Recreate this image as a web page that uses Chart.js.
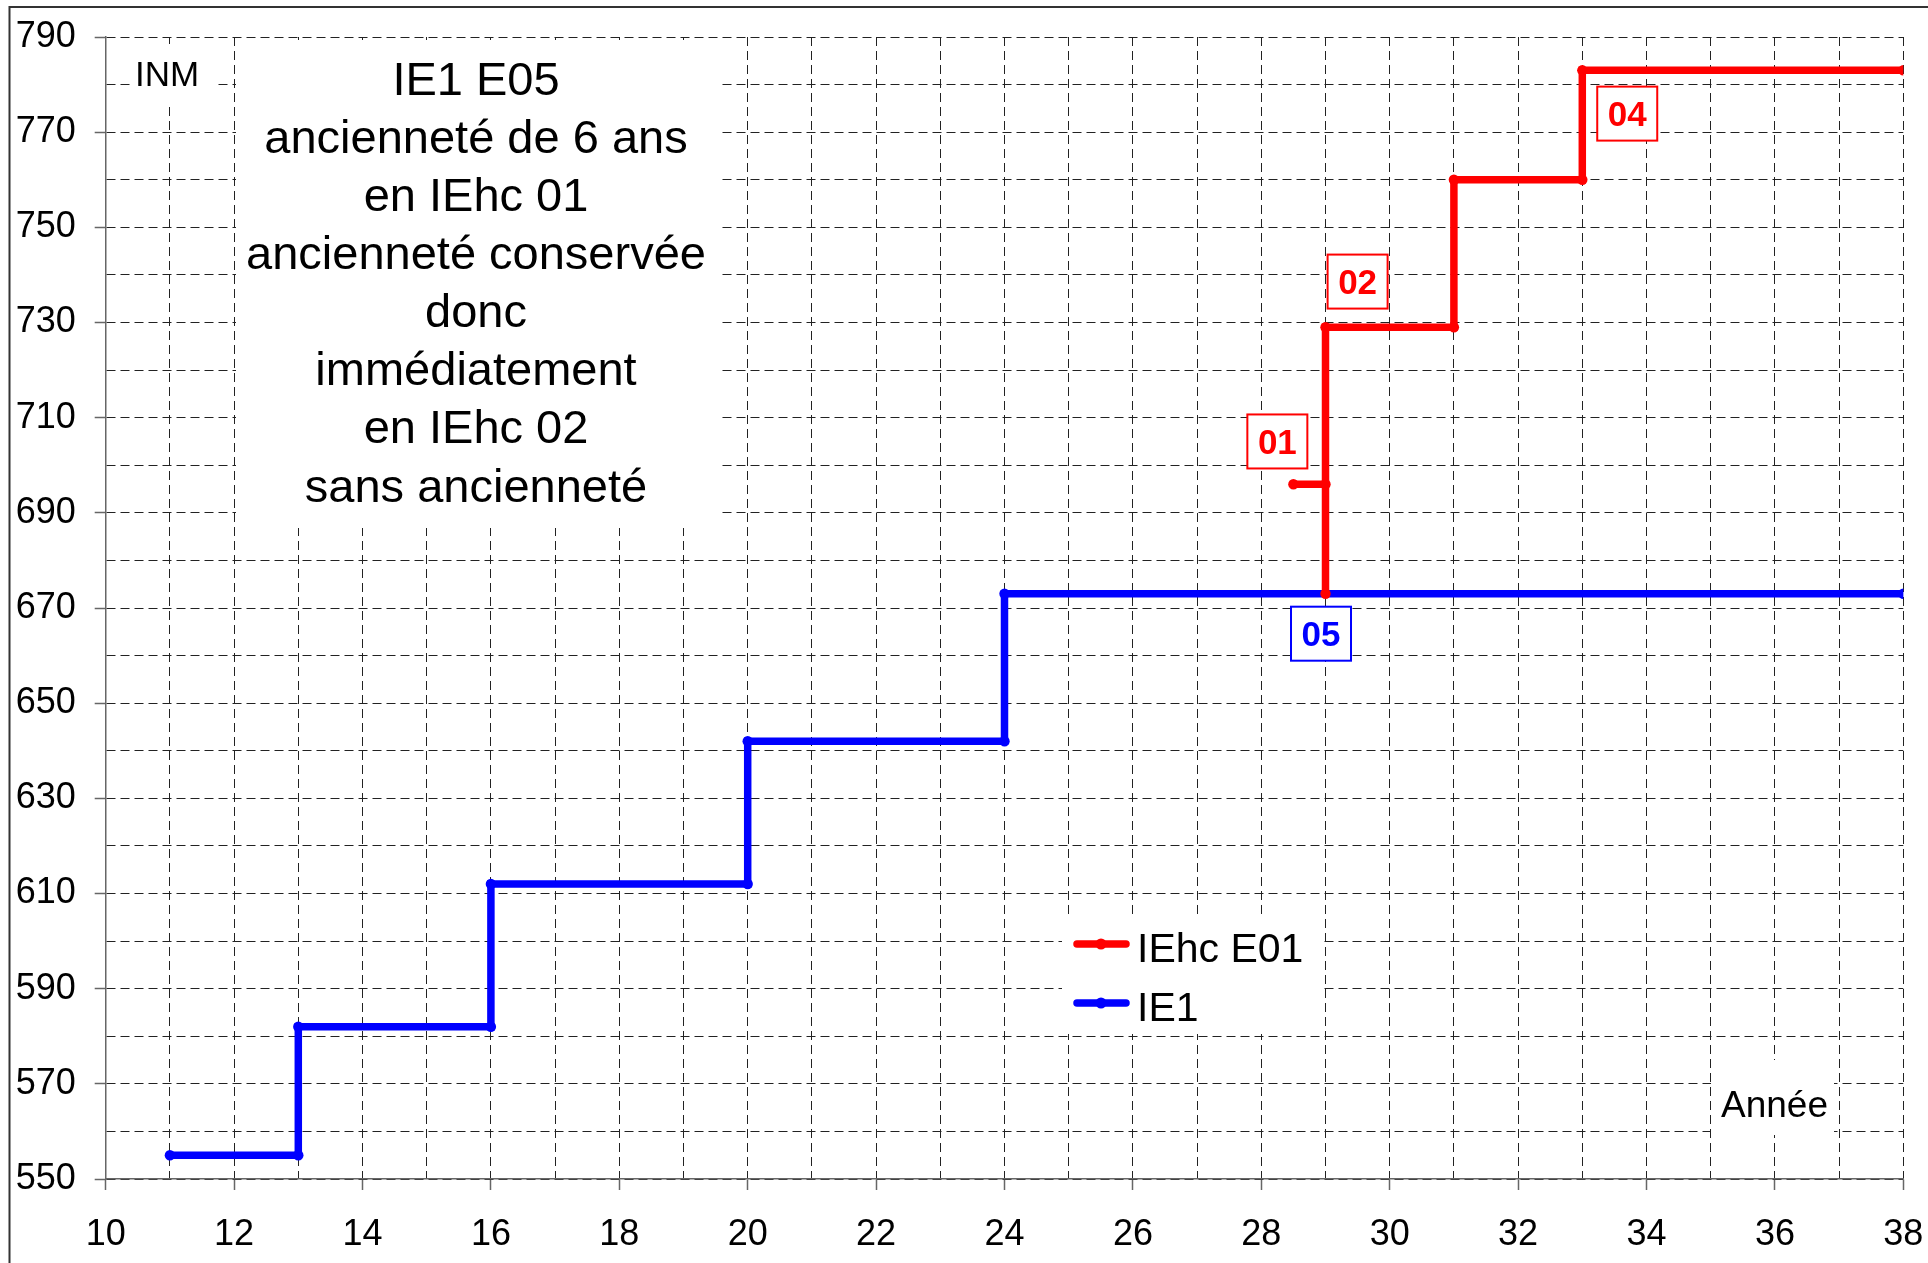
<!DOCTYPE html>
<html><head><meta charset="utf-8">
<script src="https://cdn.jsdelivr.net/npm/chart.js@4.4.1/dist/chart.umd.min.js"></script>
<style>html,body{margin:0;padding:0;background:#fff;overflow:hidden}canvas{display:block}</style>
</head><body><canvas id="c" width="1928" height="1263" style="width:1928px;height:1263px"></canvas>
<script>
// ---- data ----
const seriesNames = ['IEhc E01', 'IE1'];
const yearsIEhc = [28.5, 29, 29, 29, 31, 31, 33, 33, 38];
const inmIEhc   = [696, 696, 673, 729, 729, 760, 760, 783, 783];
const yearsIE1  = [11, 13, 13, 16, 16, 20, 20, 24, 24, 38];
const inmIE1    = [555, 555, 582, 582, 612, 612, 642, 642, 673, 673];
const xMin = 10, xMax = 38, xStep = 1, xLabelEvery = 2;
const yMin = 550, yMax = 790, yStep = 10, yLabelEvery = 20;
const echelonTexts  = ['01', '02', '04', '05'];
const echelonYears  = [28.25, 29.5, 33.7, 28.93];
const echelonInm    = [705, 738.6, 773.9, 664.6];
const echelonSeries = [0, 0, 0, 1];
const noteLines = ['IE1 E05', 'ancienneté de 6 ans', 'en IEhc 01', 'ancienneté conservée', 'donc', 'immédiatement', 'en IEhc 02', 'sans ancienneté'];
const yAxisTitle = 'INM';
const xAxisTitle = 'Année';

const colors = ['#ff0000', '#0000ff'];
const FONT = '"Liberation Sans", Arial, sans-serif';

function pts(xs, ys) { return xs.map((x, i) => ({x: x, y: ys[i]})); }
function isXLabel(v) { return Math.round(v - xMin) % xLabelEvery === 0; }
function isYLabel(v) { return Math.round(v - yMin) % yLabelEvery === 0; }

const overlay = {
  id: 'overlay',
  beforeDatasetsDraw(chart) {
    const ctx = chart.ctx;
    ctx.save();
    ctx.fillStyle = '#fff';
    ctx.fillRect(236, 40, 484, 488);   // note block
    ctx.fillRect(134, 44, 80, 60);     // INM
    ctx.fillRect(1062, 914, 262, 120); // legend
    ctx.fillRect(1711, 1060, 123, 75); // Année
    ctx.restore();
  },
  afterDatasetsDraw(chart) {
    const ctx = chart.ctx;
    const xs = chart.scales.x, ys = chart.scales.y;
    ctx.save();
    ctx.fillStyle = '#000';
    ctx.textAlign = 'center';
    ctx.textBaseline = 'alphabetic';
    ctx.font = '47px ' + FONT;
    noteLines.forEach((t, i) => ctx.fillText(t, 476, 94.8 + i * 58.1));
    ctx.textAlign = 'left';
    ctx.font = '35px ' + FONT;
    ctx.fillText(yAxisTitle, 135, 86);
    ctx.font = '37px ' + FONT;
    ctx.fillText(xAxisTitle, 1721, 1117);
    ctx.font = 'bold 35px ' + FONT;
    ctx.textAlign = 'center';
    echelonTexts.forEach((t, i) => {
      const cx = xs.getPixelForValue(echelonYears[i]);
      const cy = ys.getPixelForValue(echelonInm[i]);
      const c = colors[echelonSeries[i]];
      ctx.fillStyle = '#fff';
      ctx.fillRect(cx - 30, cy - 27, 60, 54);
      ctx.strokeStyle = c;
      ctx.lineWidth = 2;
      ctx.strokeRect(cx - 30, cy - 27, 60, 54);
      ctx.fillStyle = c;
      ctx.fillText(t, cx, cy + 12.5);
    });
    const ly = [944, 1003];
    chart.data.datasets.forEach((ds, i) => {
      ctx.strokeStyle = ds.borderColor;
      ctx.lineWidth = 7.5;
      ctx.lineCap = 'round';
      ctx.beginPath();
      ctx.moveTo(1077, ly[i]);
      ctx.lineTo(1126, ly[i]);
      ctx.stroke();
      ctx.fillStyle = ds.borderColor;
      ctx.beginPath();
      ctx.arc(1101, ly[i], 5.5, 0, Math.PI * 2);
      ctx.fill();
      ctx.fillStyle = '#000';
      ctx.textAlign = 'left';
      ctx.font = '41px ' + FONT;
      ctx.fillText(ds.label, 1137, ly[i] + 17.5);
    });
    ctx.restore();
  },
  afterDraw(chart) {
    const ctx = chart.ctx;
    ctx.save();
    ctx.strokeStyle = '#333';
    ctx.lineWidth = 2;
    ctx.beginPath();
    ctx.moveTo(9.5, 1263);
    ctx.lineTo(9.5, 7);
    ctx.lineTo(1928, 7);
    ctx.stroke();
    ctx.restore();
  }
};

new Chart(document.getElementById('c'), {
  type: 'scatter',
  data: {
    datasets: [
      {label: seriesNames[0], data: pts(yearsIEhc, inmIEhc), showLine: true,
       borderColor: colors[0], backgroundColor: colors[0], borderWidth: 7.5,
       pointRadius: 5.2, pointBorderWidth: 0, pointHoverRadius: 5.2, tension: 0},
      {label: seriesNames[1], data: pts(yearsIE1, inmIE1), showLine: true,
       borderColor: colors[1], backgroundColor: colors[1], borderWidth: 7.5,
       pointRadius: 5.2, pointBorderWidth: 0, pointHoverRadius: 5.2, tension: 0}
    ]
  },
  options: {
    responsive: false,
    animation: false,
    devicePixelRatio: 1,
    layout: {padding: {top: 37, right: 24.7, left: 0, bottom: 0}},
    plugins: {legend: {display: false}, tooltip: {enabled: false}},
    scales: {
      x: {
        type: 'linear', min: xMin, max: xMax,
        afterFit(s) { s.height = 84; s.paddingLeft = 0; s.paddingRight = 0; },
        ticks: {
          stepSize: xStep, autoSkip: false, maxRotation: 0, minRotation: 0,
          padding: 23, color: '#000', font: {family: FONT, size: 36},
          callback: v => (isXLabel(v) ? String(Math.round(v)) : '')
        },
        grid: {
          color: '#222', lineWidth: 1, tickLength: 11, tickWidth: 1.5,
          tickColor: c => (c.tick && isXLabel(c.tick.value) ? '#666' : 'rgba(0,0,0,0)')
        },
        border: {display: true, color: '#666', width: 1.5, dash: [9, 5]}
      },
      y: {
        type: 'linear', min: yMin, max: yMax,
        afterFit(s) { s.width = 105.7; s.paddingTop = 0; s.paddingBottom = 0; },
        ticks: {
          stepSize: yStep, autoSkip: false, padding: 19, color: '#000',
          font: {family: FONT, size: 36},
          callback: v => (isYLabel(v) ? String(Math.round(v)) : '')
        },
        grid: {
          color: '#222', lineWidth: 1, tickLength: 11, tickWidth: 1.5,
          tickColor: c => (c.tick && isYLabel(c.tick.value) ? '#666' : 'rgba(0,0,0,0)')
        },
        border: {display: true, color: '#666', width: 1.5, dash: [9, 5]}
      }
    }
  },
  plugins: [overlay]
});
</script>
</body></html>
